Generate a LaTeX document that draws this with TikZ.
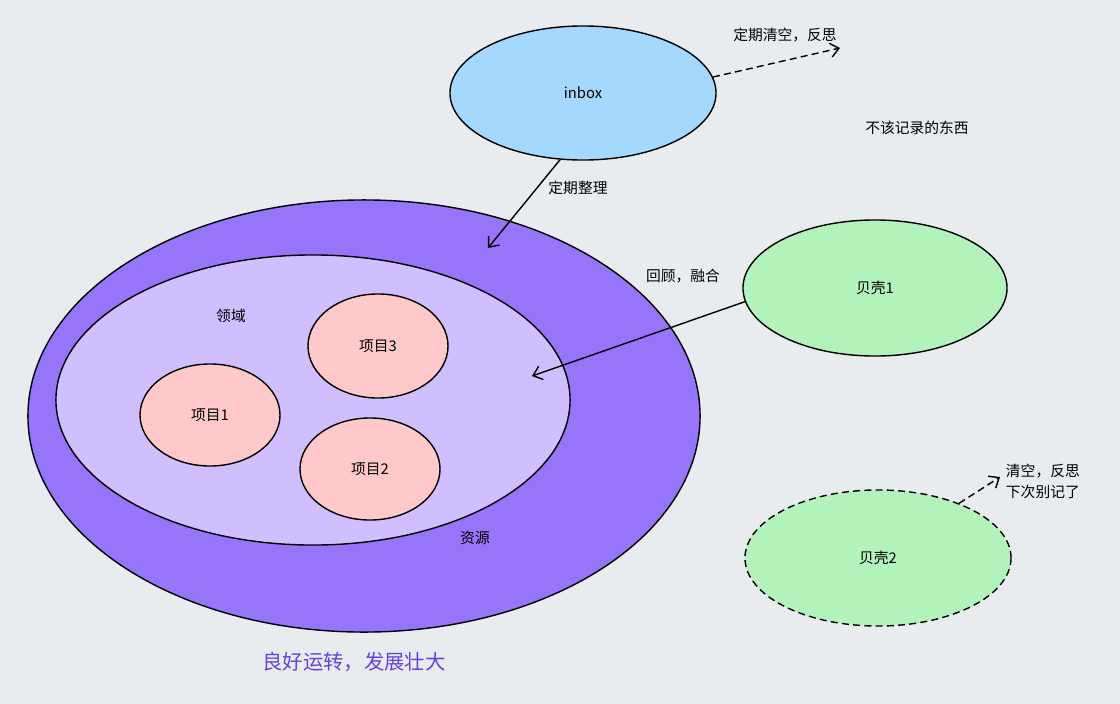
\documentclass[tikz,border=0pt]{standalone}
\usepackage{fontspec}
\setmainfont{Noto Sans CJK SC}
\usepackage{tikz}
\usetikzlibrary{positioning, shapes.geometric, arrows.meta}
\definecolor{bgcol}{RGB}{233,236,239}
\definecolor{inboxcol}{RGB}{165,216,255}
\definecolor{shellcol}{RGB}{178,242,187}
\definecolor{rescol}{RGB}{151,117,250}
\definecolor{areacol}{RGB}{208,191,255}
\definecolor{projcol}{RGB}{255,201,201}
\definecolor{goodcol}{RGB}{103,65,217}
\tikzset{
    blob/.style={
        draw, ellipse,
        inner sep = 0pt,
        line width = 1pt,
        font = \fontsize{10.5}{12}\selectfont
    },
    note/.style = {font = \fontsize{10.5}{15}\selectfont, align = left},
    line/.style = {-{Straight Barb[length=6pt,width=10pt]}, line width=1pt},
    dashline/.style = {dash pattern=on 5pt off 3pt}
}

\begin{document}
\begin{tikzpicture}[x=0.025cm, y=-0.025cm]

    \useasboundingbox[fill=bgcol] (0,0) rectangle (1120,704);

    % Resource shape
    \node[blob, fill=rescol,
        minimum width=16.8cm,
        minimum height=10.8cm,
    ] (res) at (364,416) {};
    \node (reslabel) at (475,538) {\fontsize{10.5}{12}\selectfont 资源};

    % Area shape
    \node[blob, fill=areacol,
        minimum width=12.85cm,
        minimum height=7.25cm,
    ] (area) at (313,400) {};
    \node (arealabel) at (231,316) {\fontsize{10.5}{12}\selectfont 领域};

    % Projects
    \node[blob, fill=projcol, minimum width=3.5cm, minimum height=2.55cm] (proj1) at (210,415) {项目1};
    \node[blob, fill=projcol, minimum width=3.5cm, minimum height=2.6cm] (proj3) at (378,346) {项目3};
    \node[blob, fill=projcol, minimum width=3.5cm, minimum height=2.55cm] (proj2) at (370,469) {项目2};

    % Inbox shape
    \node[blob, fill=inboxcol,
        minimum width=6.65cm,
        minimum height=3.35cm,
    ] (inbox) at (583,93) {inbox};

    % Shells
    \node[blob, fill=shellcol,
        minimum width=6.6cm,
        minimum height=3.4cm,
    ] (shell1) at (875,288) {贝壳1};
    \node[blob, fill=shellcol, dashline,
        minimum width=6.65cm,
        minimum height=3.4cm,
    ] (shell2) at (878,558) {贝壳2};

    % Labels
    \node[note] (clean) at (785,35) {定期清空，反思};
    \node[note] (nowrite) at (917,128) {不该记录的东西};
    \node[note] (sort) at (578,188) {定期整理};
    \node[note] (review) at (683,276) {回顾，融合};
    \node[note, anchor=west] (forget) at (1001,481) {清空，反思\\下次别记了};
    \node (good) at (354,662) {\fontsize{14.5}{16}\selectfont\color{goodcol}良好运转，发展壮大};

    % Free ends
    \coordinate (cleanend) at (840,48);
    \coordinate (resin) at (488,248);
    \coordinate (areain) at (532,376);
    \coordinate (forgetend) at (1000,477);

    % Lines
    \draw[line, dashline] (inbox.7) -- (cleanend);
    \draw[line] (inbox.-109) -- (resin);
    \draw[line] (shell1.186) -- (areain);
    \draw[line, dashline] (shell2.34.5) -- (forgetend);

\end{tikzpicture}
\end{document}
